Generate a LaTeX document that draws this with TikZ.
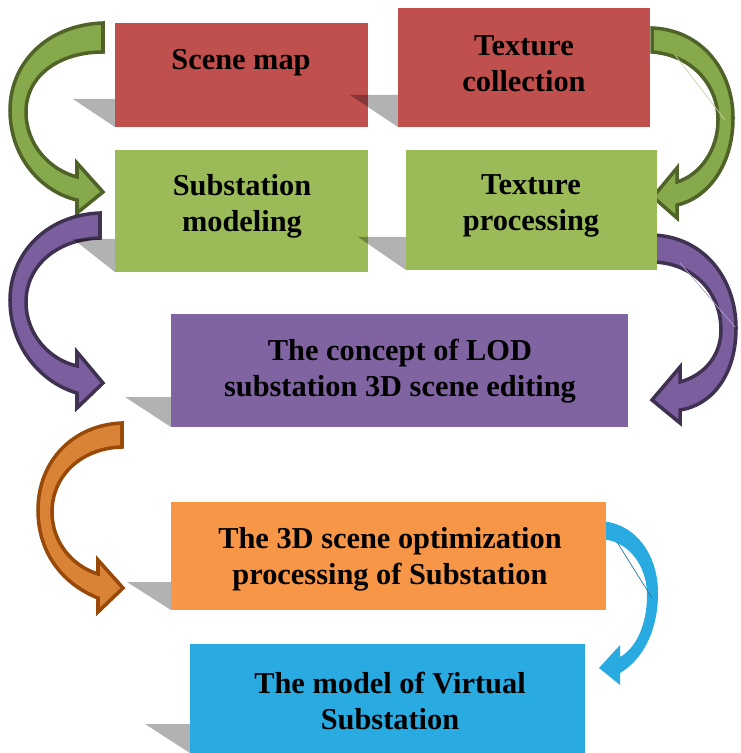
\documentclass[tikz,border=0pt]{standalone}
\usepackage{fontspec}
\setmainfont{Liberation Serif}
\usepackage{tikz}
\usetikzlibrary{positioning}

\definecolor{boxred}{HTML}{C0504D}
\definecolor{boxgreen}{HTML}{9BBB59}
\definecolor{boxpurple}{HTML}{8064A2}
\definecolor{boxorange}{HTML}{F79646}
\definecolor{boxblue}{HTML}{29ABE2}
\definecolor{arrgreen}{HTML}{86A94B}
\definecolor{arrgreenD}{HTML}{4F6228}
\definecolor{arrpurple}{HTML}{7A5E9E}
\definecolor{arrpurpleD}{HTML}{3F3151}
\definecolor{arrorange}{HTML}{D98337}
\definecolor{arrorangeD}{HTML}{984807}

\tikzset{
  box/.style={draw=none,inner sep=0pt,outer sep=0pt},
  txt/.style={font=\bfseries\fontsize{21.6}{25.5}\selectfont,align=center,inner sep=0pt},
  shadowtri/.style={fill=black,opacity=.3},
  bentarrow/.style={line width=2.5pt,line join=miter},
  faint/.style={line width=.5pt}
}

\begin{document}
\begin{tikzpicture}[x=0.025cm,y=-0.025cm]
        \useasboundingbox (0,0) rectangle (740,753);
        % curved arrows
        \draw[bentarrow,fill=arrgreen,draw=arrgreenD] (103,23) .. controls (45,25) and (10,65) .. (10,110)
              .. controls (10,158) and (42,192) .. (77,200) -- (77,213) -- (103,192) -- (77,163) -- (77,177)
              .. controls (50,170) and (26,145) .. (26,112) .. controls (26,75) and (60,52) .. (103,52) -- cycle;
        \draw[bentarrow,fill=arrgreen,draw=arrgreenD] (652,28) .. controls (703,30) and (733,72) .. (733,118)
              .. controls (733,165) and (708,198) .. (677,205) -- (677,218) -- (653,197) -- (677,168) -- (677,182)
              .. controls (700,175) and (718,150) .. (718,120) .. controls (718,85) and (692,55) .. (652,52) -- cycle;
        \draw[bentarrow,fill=arrpurple,draw=arrpurpleD] (100,213) .. controls (45,215) and (10,255) .. (10,300)
              .. controls (10,348) and (42,383) .. (77,393) -- (77,408) -- (103,383) -- (77,352) -- (77,366)
              .. controls (50,360) and (26,335) .. (26,302) .. controls (26,265) and (58,239) .. (100,238) -- cycle;
        \draw[bentarrow,fill=arrpurple,draw=arrpurpleD] (653,235) .. controls (705,237) and (736,280) .. (736,328)
              .. controls (736,375) and (712,405) .. (680,410) -- (680,423) -- (652,400) -- (680,367) -- (680,382)
              .. controls (705,375) and (721,355) .. (721,330) .. controls (721,292) and (693,263) .. (653,262) -- cycle;
        \draw[bentarrow,fill=arrorange,draw=arrorangeD] (122,423) .. controls (72,425) and (38,462) .. (38,510)
              .. controls (38,555) and (65,585) .. (98,598) -- (98,612) -- (123,588) -- (98,560) -- (98,574)
              .. controls (72,566) and (52,542) .. (52,512) .. controls (52,475) and (82,448) .. (122,447) -- cycle;
        \fill[boxblue] (600,521) .. controls (636,523) and (658,555) .. (658,593)
              .. controls (658,632) and (642,660) .. (620,673) -- (620,685) -- (599,668) -- (620,645) -- (620,657)
              .. controls (636,648) and (647,625) .. (647,595) .. controls (647,565) and (628,540) .. (600,539) -- cycle;
        \draw[faint,arrgreen!50] (675,55) -- (725,120);
        \draw[faint,arrpurple!60] (680,263) -- (735,327);
        \draw[faint,boxblue!70!black] (617,542) -- (652,598);
        % boxes
        \node[box,fill=boxred,minimum width=6.325cm,minimum height=2.6cm] (scene) at (241.5,75) {};
        \node[box,fill=boxred,minimum width=6.3cm,minimum height=2.975cm] (texcoll) at (524,67.5) {};
        \node[box,fill=boxgreen,minimum width=6.325cm,minimum height=3.05cm] (submod) at (241.5,211) {};
        \node[box,fill=boxgreen,minimum width=6.275cm,minimum height=3cm] (texproc) at (531.5,210) {};
        \node[box,fill=boxpurple,minimum width=11.425cm,minimum height=2.825cm] (lod) at (399.5,370.5) {};
        \node[box,fill=boxorange,minimum width=10.875cm,minimum height=2.7cm] (optim) at (388.5,556) {};
        \node[box,fill=boxblue,minimum width=9.875cm,minimum height=2.725cm] (virt) at (387.5,698.5) {};
        % shadows
        \fill[shadowtri] (73,99) -- (scene.west |- 0,99) -- (scene.south west) -- cycle;
        \fill[shadowtri] (350,95) -- (texcoll.west |- 0,95) -- (texcoll.south west) -- cycle;
        \fill[shadowtri] (73,239) -- (submod.west |- 0,239) -- (submod.south west) -- cycle;
        \fill[shadowtri] (358,237) -- (texproc.west |- 0,237) -- (texproc.south west) -- cycle;
        \fill[shadowtri] (125,397) -- (lod.west |- 0,397) -- (lod.south west) -- cycle;
        \fill[shadowtri] (127,582) -- (optim.west |- 0,582) -- (optim.south west) -- cycle;
        \fill[shadowtri] (145,724) -- (virt.west |- 0,724) -- (virt.south west) -- cycle;
        % labels
        \node[txt] (scene-t) at (241,63) {Scene map};
        \node[txt] (texcoll-t) at (524,64) {Texture\\collection};
        \node[txt] (submod-t) at (242,206) {Substation\\modeling};
        \node[txt] (texproc-t) at (531,206) {Texture\\processing};
        \node[txt] (lod-t) at (400,371) {The concept of LOD\\substation 3D scene editing};
        \node[txt] (optim-t) at (390,559) {The 3D scene optimization\\processing of Substation};
        \node[txt] (virt-t) at (390,701) {The model of Virtual\\Substation};
\end{tikzpicture}
\end{document}
